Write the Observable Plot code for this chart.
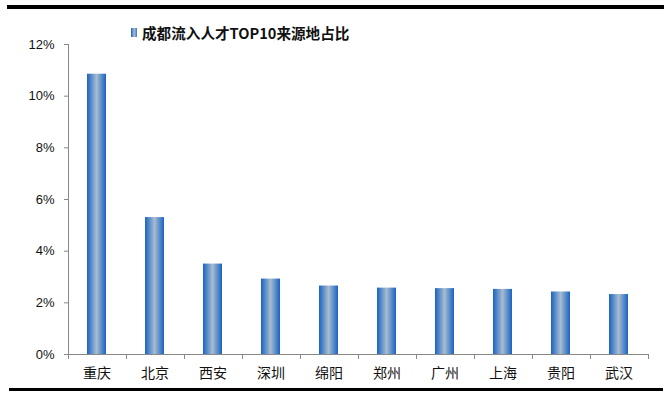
<!DOCTYPE html>
<html><head><meta charset="utf-8">
<script src="https://cdn.jsdelivr.net/npm/d3@7"></script>
<script src="https://cdn.jsdelivr.net/npm/@observablehq/plot@0.6"></script>
<style>
body{margin:0;background:#fff;}
#wrap{position:relative;width:672px;height:399px;overflow:hidden;}
.hline{position:absolute;background:#000;}
#legend{position:absolute;left:131px;top:21px;height:22px;display:flex;align-items:center;font-family:"Noto Sans CJK SC";font-weight:700;font-size:14.6px;color:#111;white-space:nowrap;}
#legend .sw{width:6px;height:9px;margin-right:5px;background:linear-gradient(to right,#1f63c0,#a8bdd1 55%,#3b78c4);}
#chart{position:absolute;left:0;top:0;}
</style></head>
<body><div id="wrap">
<div class="hline" style="left:7px;top:5px;width:657px;height:4px"></div>
<div class="hline" style="left:9px;top:388px;width:654px;height:3px"></div>
<div id="legend"><span class="sw"></span><span id="ltitle"></span></div>
<div id="chart"></div>
</div>
<script>
const title = "成都流入人才TOP10来源地占比";
const cities = ["重庆","北京","西安","深圳","绵阳","郑州","广州","上海","贵阳","武汉"];
const shares = [0.1085,0.053,0.035,0.0292,0.0265,0.0257,0.0255,0.0252,0.0242,0.0232];
const yTicks = [0,0.02,0.04,0.06,0.08,0.10,0.12];

document.getElementById("ltitle").textContent = title;
const data = cities.map((c,i)=>({city:c, share:shares[i]}));

const plot = Plot.plot({
  width:672, height:399,
  marginLeft:68, marginRight:24, marginTop:44, marginBottom:45,
  style:{fontFamily:"Liberation Sans", fontSize:"13px", color:"#111", background:"transparent"},
  x:{domain:cities, paddingInner:0.67, paddingOuter:0.335, align:0.5, label:null},
  y:{domain:[0,0.12], label:null},
  marks:[
    Plot.barY(data,{x:"city", y:"share", fill:"url(#bargrad)"}),
    Plot.axisY({ticks:yTicks, tickFormat:d3.format(".0%"), tickSize:4, tickPadding:10, stroke:"#888", fill:"#111", fontSize:13}),
    Plot.axisX({tickSize:0, tickPadding:14, fontSize:14, fill:"#111", fontFamily:"Noto Sans CJK SC"}),
    Plot.ruleY([0],{stroke:"#888", strokeWidth:1})
  ]
});
document.getElementById("chart").appendChild(plot);

const svg = d3.select(plot);
const defs = svg.insert("defs",":first-child");
const g = defs.append("linearGradient").attr("id","bargrad").attr("x1","0").attr("x2","1").attr("y1","0").attr("y2","0");
[["0%","#1b62c3"],["12%","#3a79c6"],["50%","#a7bcd0"],["88%","#3a79c6"],["100%","#1b62c3"]].forEach(([o,c])=>g.append("stop").attr("offset",o).attr("stop-color",c));

// y axis line and x category boundary ticks, positioned from the scales
const xs = plot.scale("x"), ys = plot.scale("y");
const y0 = ys.apply(0), yTop = ys.apply(0.12);
const left = xs.range[0], right = xs.range[1];
const step = (right-left)/cities.length;
const gl = svg.append("g").attr("stroke","#888").attr("stroke-width",1);
gl.append("line").attr("x1",left+0.5).attr("x2",left+0.5).attr("y1",yTop).attr("y2",y0);
for(let i=0;i<=cities.length;i++){
  const xx = Math.round(left + i*step)+0.5;
  gl.append("line").attr("x1",xx).attr("x2",xx).attr("y1",y0).attr("y2",y0+5);
}
</script>
</body></html>
